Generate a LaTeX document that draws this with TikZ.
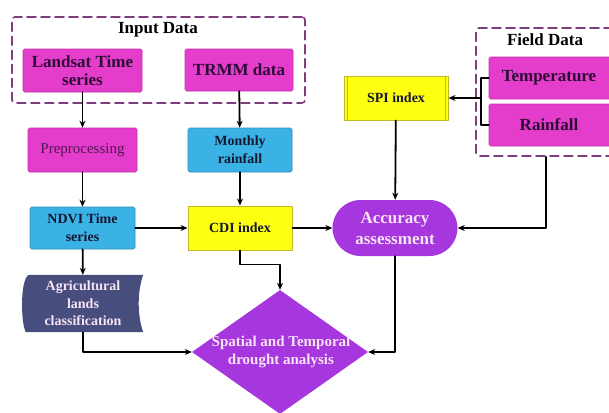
\documentclass[tikz,border=0pt]{standalone}
\usepackage{fontspec}
\setmainfont{Liberation Serif}
\usetikzlibrary{shapes.geometric,backgrounds,calc,arrows.meta}
\definecolor{boxpink}{HTML}{E43CCB}
\definecolor{boxblue}{HTML}{3AB2E6}
\definecolor{boxyellow}{HTML}{FFFF10}
\definecolor{yellowedge}{HTML}{C2B830}
\definecolor{boxpurple}{HTML}{A636DE}
\definecolor{agriblue}{HTML}{474D7D}
\definecolor{groupline}{HTML}{7E3C7C}
\definecolor{darktxt}{HTML}{2C0C34}
\definecolor{navytxt}{HTML}{161830}
\definecolor{lighttxt}{HTML}{F8E4F6}
\begin{document}
\begin{tikzpicture}[>={Stealth[length=7pt,width=6pt]},line join=round,line cap=round,x=1pt,y=-1pt,
	every node/.style={inner sep=0pt,align=center},
	big/.style={font=\fontsize{17}{18}\selectfont\bfseries},
	mid/.style={font=\fontsize{14}{18}\selectfont\bfseries},
	pinkbox/.style={fill=boxpink,draw=boxpink!85!black,line width=0.6pt,rounded corners=1.5pt,text=darktxt},
	bluebox/.style={fill=boxblue,draw=boxblue!80!black,line width=0.6pt,rounded corners=1.5pt,text=navytxt},
	yellowbox/.style={fill=boxyellow,draw=yellowedge,line width=1pt,text=navytxt},
	groupbox/.style={draw=groupline,dash pattern=on 9pt off 5pt,line width=1.6pt,rounded corners=3pt},
	flow/.style={->,line width=1.8pt}]
	\path[use as bounding box,clip] (0,0) rectangle (609,412);
	% input data
	\node[groupbox,minimum width=293pt,minimum height=86pt] (inputbox) at (158.5,60) {};
	\node[big] (inputtitle) at (158,30) {Input Data};
	\node[pinkbox,big,minimum width=119pt,minimum height=43pt] (landsat) at (82.5,70.5) {Landsat Time\\series};
	\node[pinkbox,big,minimum width=108pt,minimum height=42pt] (trmm) at (239,70) {TRMM data};
	% field data
	\node[groupbox,minimum width=140pt,minimum height=128pt] (fieldbox) at (546,92) {};
	\node[big] (fieldtitle) at (545,40) {Field Data};
	\node[pinkbox,big,minimum width=124pt,minimum height=42pt] (temp) at (551,78) {\hspace*{-4pt}Temperature};
	\node[pinkbox,big,minimum width=124pt,minimum height=42pt] (rain) at (551,125) {\hspace*{-4pt}Rainfall};
	\node[yellowbox,mid,minimum width=104pt,minimum height=44pt,
		path picture={\draw[yellowedge,line width=0.8pt]
			([xshift=3pt]path picture bounding box.north west) -- ([xshift=3pt]path picture bounding box.south west)
			([xshift=-3pt]path picture bounding box.north east) -- ([xshift=-3pt]path picture bounding box.south east);}]
		(spi) at (396,98) {SPI index};
	% middle rows
	\node[pinkbox,minimum width=109pt,minimum height=44pt,font=\fontsize{15}{18}\selectfont,text=darktxt!80!boxpink] (prep) at (82.5,150) {Preprocessing};
	\node[bluebox,mid,minimum width=104pt,minimum height=44pt] (monthly) at (240,150) {Monthly\\rainfall};
	\node[bluebox,mid,minimum width=105pt,minimum height=42pt] (ndvi) at (82.5,228) {NDVI Time\\series};
	\node[yellowbox,mid,minimum width=104pt,minimum height=44pt] (cdi) at (240,228) {CDI index};
	\node[fill=boxpurple,rounded corners=28pt,minimum width=125pt,minimum height=56pt,text=lighttxt,
		font=\fontsize{17}{21}\selectfont\bfseries] (acc) at (395,228) {Accuracy\\assessment};
	% bottom row
	\node[text=lighttxt,minimum width=120pt,minimum height=57pt,font=\fontsize{14}{17.5}\selectfont\bfseries] (agri) at (83,303.5) {Agricultural\\lands\\classification};
	\begin{scope}[on background layer]
		\fill[agriblue] ($(agri.north west)+(6,0)$) .. controls ($(agri.west)+(-3,-24)$) and ($(agri.west)+(-2,20)$) .. ($(agri.south west)+(3,0)$)
			-- (agri.south east) .. controls ($(agri.east)+(-6,12)$) and ($(agri.east)+(-6,-12)$) .. (agri.north east) -- cycle;
	\end{scope}
	\node[diamond,fill=boxpurple,minimum width=176pt,minimum height=124pt] (drought) at (280,352) {};
	\node[text=lighttxt,font=\fontsize{15}{18}\selectfont\bfseries] (droughttext) at (281,352) {Spatial and Temporal\\drought analysis};
	% connectors
	\draw[flow] (landsat) -- (prep);
	\draw[flow] (trmm) -- (monthly);
	\draw[flow] (prep) -- (ndvi);
	\draw[flow] (monthly) -- (cdi);
	\draw[flow] (ndvi) -- (cdi);
	\draw[flow] (cdi) -- (acc);
	\draw[flow] (ndvi) -- (agri);
	\draw[flow] (agri.south) |- (drought.west);
	\draw[flow] (cdi.south) -- ++(0,14) -| (drought.north);
	\draw[flow] (spi) -- (acc);
	\draw[flow] (fieldbox.south) |- (acc.east);
	\draw[flow] (acc.south) |- (drought.east);
	\draw[line width=1.8pt] (temp.west) -- ++(-8,0) |- (rain.west);
	\coordinate (brk) at (481,98);
	\draw[flow] (brk) -- (spi.east);
\end{tikzpicture}
\end{document}
